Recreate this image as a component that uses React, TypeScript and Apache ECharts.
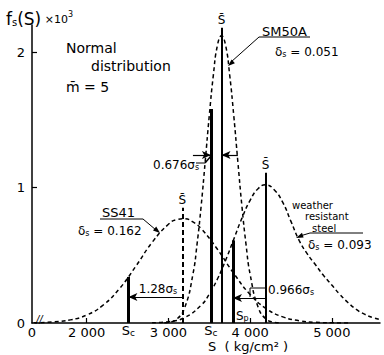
import { useEffect, useRef } from 'react';
import * as echarts from 'echarts';

const FONT = '"DejaVu Sans", sans-serif';

// axis extents & ticks
const X_MIN = 1330;
const X_MAX = 5590;
const Y_MAX = 2.2;
const xTicks = [2000, 3000, 4000, 5000];
const yTicks = [1, 2];
const yLabels = [0, 1, 2];

// curves (S in kg/cm², f in 1e-3)
const sSS41 = [1350, 1600, 1800, 2000, 2200, 2400, 2600, 2800, 3000, 3100, 3200, 3300, 3400, 3600, 3800, 4000, 4200, 4400, 4600, 4800, 5000, 5200];
const fSS41 = [0.0015, 0.008, 0.023, 0.059, 0.132, 0.253, 0.418, 0.595, 0.729, 0.763, 0.769, 0.746, 0.697, 0.544, 0.366, 0.211, 0.105, 0.045, 0.017, 0.005, 0.0014, 0.0003];

const sSM50A = [2950, 3000, 3100, 3200, 3300, 3350, 3400, 3450, 3500, 3550, 3600, 3650, 3700, 3750, 3800, 3850, 3900, 3950, 4000, 4100, 4200, 4300, 4350];
const fSM50A = [0.001, 0.005, 0.027, 0.114, 0.36, 0.58, 0.86, 1.19, 1.53, 1.83, 2.05, 2.12, 2.05, 1.83, 1.53, 1.19, 0.86, 0.58, 0.36, 0.114, 0.027, 0.005, 0.001];

const sWeather = [2800, 3000, 3200, 3400, 3500, 3600, 3700, 3800, 3900, 4000, 4100, 4190, 4300, 4400, 4500, 4600, 4700, 4800, 4900, 5000, 5100, 5200, 5300, 5400, 5500, 5590];
const fWeather = [0.002, 0.01, 0.041, 0.131, 0.213, 0.325, 0.463, 0.619, 0.774, 0.906, 0.993, 1.02, 0.98, 0.89, 0.75, 0.61, 0.51, 0.43, 0.35, 0.28, 0.21, 0.15, 0.1, 0.065, 0.04, 0.025];

// per steel: SS41, SM50A, weather resistant
const steelNames = ['SS41', 'SM50A', 'weather resistant steel'];
const meanS = [3170, 3650, 4190];
const meanTop = [0.85, 2.18, 1.11];
const charS = [2510, 3520, 3790];
const charTop = [0.34, 1.58, 0.61];
const dimLevel = [0.192, 1.24, 0.185];
const sm50aDimOuter = [3300, 3850];

const fmtX = (v: number) =>
  v === X_MIN ? '0' : `${Math.floor(v / 1000)} ${String(v % 1000).padStart(3, '0')}`;

const subRich = {
  a: { fontSize: 13, fontFamily: FONT, color: '#000' },
  b: { fontSize: 9, fontFamily: FONT, color: '#000', verticalAlign: 'bottom' as const, padding: [4, 0, 0, 0] },
};

const charLine = (i: number, showLabel: boolean) => [
  {
    coord: [charS[i], 0],
    lineStyle: { width: 3, color: '#000', type: 'solid' },
    label: {
      show: showLabel,
      position: 'start',
      distance: 1,
      formatter: '{a|S}{b|c}',
      rich: subRich,
    },
  },
  { coord: [charS[i], charTop[i]] },
];

const meanLine = (i: number, dash: any) => [
  {
    coord: [meanS[i], 0],
    lineStyle: { width: 2, color: '#000', type: dash },
    label: {
      show: true,
      position: 'end',
      distance: 2,
      formatter: 'S\u0304',
      color: '#000',
      fontSize: 12,
      fontFamily: FONT,
    },
  },
  { coord: [meanS[i], meanTop[i]] },
];

const arrowLine = (from: number, to: number, y: number) => [
  { coord: [from, y], lineStyle: { width: 1.2, color: '#000', type: 'solid' }, label: { show: false } },
  { coord: [to, y], symbol: 'arrow', symbolSize: [6, 9] },
];

const curveSeries = (name: string, xs: number[], ys: number[], markData: any[]) => ({
  name,
  type: 'line',
  data: xs.map((x, k) => [x, ys[k]]),
  smooth: true,
  showSymbol: false,
  silent: true,
  lineStyle: { color: '#000', width: 1.5, type: [4, 3] },
  markLine: {
    silent: true,
    animation: false,
    symbol: ['none', 'none'],
    data: markData,
  },
});

const txt = (x: number, y: number, text: string, size = 13, extra: any = {}) => ({
  type: 'text',
  x,
  y,
  silent: true,
  style: {
    text,
    fill: '#000',
    fontSize: size,
    fontFamily: FONT,
    align: 'left',
    verticalAlign: 'middle',
    textAlign: 'left',
    textVerticalAlign: 'middle',
    ...extra,
  },
});

const sub = (size: number) => ({
  s: { fontSize: Math.round(size * 0.7), fontFamily: FONT, fill: '#000', verticalAlign: 'bottom', padding: [4, 0, 0, 0] },
  d: { fontSize: size, fontFamily: FONT, fill: '#000' },
});

const ln = (x1: number, y1: number, x2: number, y2: number, w = 1) => ({
  type: 'line',
  silent: true,
  shape: { x1, y1, x2, y2 },
  style: { stroke: '#000', lineWidth: w },
});

const head = (pts: number[][]) => ({
  type: 'polygon',
  silent: true,
  shape: { points: pts },
  style: { fill: '#000' },
});

const option: any = {
  animation: false,
  backgroundColor: '#fff',
  textStyle: { fontFamily: FONT },
  grid: { left: 32, right: 4, top: 25, bottom: 32 },
  xAxis: {
    type: 'value',
    min: X_MIN,
    max: X_MAX,
    axisLine: { show: true, lineStyle: { color: '#000', width: 1.5 } },
    axisTick: { show: true, inside: true, length: 5, customValues: xTicks, lineStyle: { color: '#000', width: 1.2 } },
    axisLabel: {
      customValues: [X_MIN, ...xTicks],
      formatter: fmtX,
      color: '#000',
      fontSize: 13,
      margin: 3,
      fontFamily: FONT,
      showMinLabel: true,
    },
    splitLine: { show: false },
  },
  yAxis: {
    type: 'value',
    min: 0,
    max: Y_MAX,
    axisLine: { show: true, lineStyle: { color: '#000', width: 1.5 } },
    axisTick: { show: true, inside: true, length: 5, customValues: yTicks, lineStyle: { color: '#000', width: 1.2 } },
    axisLabel: { customValues: yLabels, color: '#000', fontSize: 13, margin: 7, fontFamily: FONT },
    splitLine: { show: false },
  },
  series: [
    curveSeries(steelNames[0], sSS41, fSS41, [
      charLine(0, true),
      meanLine(0, [5, 3]),
      arrowLine(meanS[0], charS[0], dimLevel[0]),
    ]),
    curveSeries(steelNames[1], sSM50A, fSM50A, [
      charLine(1, true),
      meanLine(1, 'solid'),
      arrowLine(sm50aDimOuter[0], charS[1], dimLevel[1]),
      arrowLine(sm50aDimOuter[1], meanS[1], dimLevel[1]),
    ]),
    curveSeries(steelNames[2], sWeather, fWeather, [
      charLine(2, false),
      meanLine(2, 'solid'),
      arrowLine(meanS[2], charS[2], dimLevel[2]),
    ]),
  ],
  graphic: [
    // y axis title
    txt(6, 19, '{f|f}{fs|s}{f|(S)}{x| ×10}{sup|3}', 17, {
      rich: {
        f: { fontSize: 17, fontFamily: FONT, fill: '#000' },
        fs: { fontSize: 10, fontFamily: FONT, fill: '#000', verticalAlign: 'bottom', padding: [5, 0, 0, 0] },
        x: { fontSize: 11, fontFamily: FONT, fill: '#000' },
        sup: { fontSize: 8, fontFamily: FONT, fill: '#000', verticalAlign: 'top', padding: [0, 0, 6, 0] },
      },
    }),
    txt(66, 48, 'Normal', 14),
    txt(91, 66, 'distribution', 14),
    txt(66, 87, 'm\u0304 = 5', 14),
    // SM50A
    txt(262, 31, 'SM50A', 13),
    ln(259, 37, 310, 37),
    ln(259, 37, 231, 62),
    head([[228, 66], [234.9, 63.3], [231.6, 59.5]]),
    txt(275, 52, '{d|δ}{s|s}{d| = 0.051}', 12, { rich: sub(12) }),
    txt(153, 165, '{d|0.676σ}{s|s}', 12, { rich: sub(12) }),
    ln(196, 163, 205, 163),
    ln(205, 163, 211, 156, 1.5),
    // SS41
    txt(102, 212, 'SS41', 13),
    ln(100, 219, 143, 219),
    ln(143, 219, 156, 230),
    head([[160, 233], [153, 230.4], [156.2, 226.6]]),
    txt(78, 231, '{d|δ}{s|s}{d| = 0.162}', 12, { rich: sub(12) }),
    txt(158, 289, '{d|1.28σ}{s|s}', 12, { rich: sub(12), align: 'center', textAlign: 'center' }),
    // weather resistant steel
    txt(292, 205, 'weather', 10),
    txt(305, 216.5, 'resistant', 10),
    txt(312, 228, 'steel', 10),
    ln(310, 233, 363, 233),
    ln(310, 233, 300, 236),
    head([[296, 238], [303.6, 237.6], [302, 232.8]]),
    txt(308, 245, '{d|δ}{s|s}{d| = 0.093}', 12, { rich: sub(12) }),
    txt(268, 290, '{d|0.966σ}{s|s}', 12, { rich: sub(12) }),
    {
      type: 'polyline',
      silent: true,
      shape: { points: [[267, 288], [250, 288], [250, 297]] },
      style: { stroke: '#000', lineWidth: 1, fill: 'none' },
    },
    txt(236, 316, '{d|S}{s|p}', 12, { rich: sub(12) }),
    // axis name & break
    txt(248, 346, 'S  ( kg/cm² )', 13, { align: 'center', textAlign: 'center' }),
    txt(36, 319, '//', 10, { fontStyle: 'italic' }),
  ],
};

export default function App() {
  const ref = useRef<HTMLDivElement>(null);
  useEffect(() => {
    document.body.style.margin = '0';
    const chart = echarts.init(ref.current!, null, { renderer: 'svg' });
    chart.setOption(option);
    return () => chart.dispose();
  }, []);
  return <div ref={ref} style={{ width: 384, height: 355 }} />;
}
